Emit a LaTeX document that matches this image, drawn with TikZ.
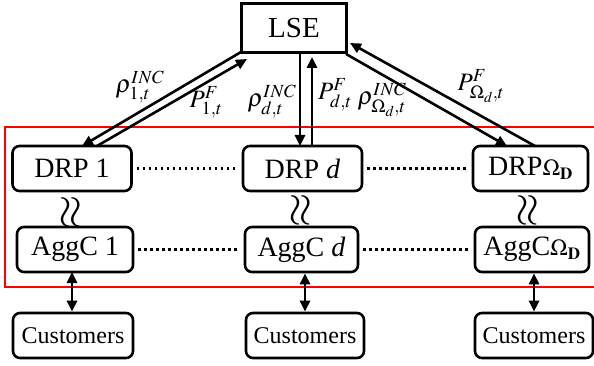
\documentclass[tikz,border=0pt]{standalone}
\usepackage{mathptmx}
\usepackage[no-math]{fontspec}
\setmainfont{Liberation Serif}
\usetikzlibrary{arrows.meta}
\begin{document}
\begin{tikzpicture}[x=1pt,y=-1pt,
  box/.style={draw,line width=2.6pt,rounded corners=7pt,minimum height=45pt,inner sep=0pt,font=\fontsize{28}{30}\selectfont},
  sbox/.style={draw,line width=2.6pt,minimum height=49pt,inner sep=0pt,font=\fontsize{29}{31}\selectfont},
  cbox/.style={box,font=\fontsize{24}{26}\selectfont},
  arr/.style={line width=2.6pt,-{Triangle[length=11pt,width=10pt]}},
  darr/.style={line width=2.6pt,{Triangle[length=11pt,width=10pt]}-{Triangle[length=11pt,width=10pt]}},
  dots/.style={line width=2.6pt,dash pattern=on 2.6pt off 3.4pt,shorten <=4pt,shorten >=4pt},
  lab/.style={inner sep=0pt,font=\fontsize{25}{27}\selectfont},
  wave/.style={inner sep=0pt,font=\fontsize{44}{46}\selectfont}]
\useasboundingbox (0,0) rectangle (594,366);
\draw[red,line width=1.8pt] (5,127) rectangle (600,287);
\node[sbox,minimum width=105pt] (LSE) at (294,28) {LSE};
\node[box,minimum width=119pt] (DRP1) at (72,168.5) {DRP 1};
\node[box,minimum width=119pt] (DRPd) at (302.5,168.5) {DRP \textit{d}};
\node[box,minimum width=115pt] (DRPO) at (530.5,168.5) {DRP{\fontsize{23}{25}\selectfont$\Omega_{\mathbf{D}}$}};
\node[box,minimum width=116pt] (A1) at (75,249.5) {AggC 1};
\node[box,minimum width=113pt] (Ad) at (301.5,249.5) {AggC \textit{d}};
\node[box,minimum width=114pt] (AO) at (532,249.5) {AggC{\fontsize{23}{25}\selectfont$\Omega_{\mathbf{D}}$}};
\node[cbox,minimum width=120pt] (C1) at (73,335.5) {Customers};
\node[cbox,minimum width=118pt] (Cd) at (305,335.5) {Customers};
\node[cbox,minimum width=118pt] (CO) at (534,335.5) {Customers};
% connector end points
\coordinate (a1s) at (241,52);  \coordinate (a1e) at (82,146);
\coordinate (b1s) at (97,146);  \coordinate (b1e) at (247,59);
\coordinate (ads) at (300,52.5);  \coordinate (ade) at (300,146);
\coordinate (bds) at (312,146); \coordinate (bde) at (312,57);
\coordinate (aos) at (346,54);  \coordinate (aoe) at (507,146);
\coordinate (bos) at (535,146); \coordinate (boe) at (350,43);
\draw[arr] (a1s) -- (a1e);
\draw[arr] (b1s) -- (b1e);
\draw[arr] (ads) -- (ade);
\draw[arr] (bds) -- (bde);
\draw[arr] (aos) -- (aoe);
\draw[arr] (bos) -- (boe);
% dotted links
\draw[dots] (DRP1.east) -- (DRPd.west);
\draw[dots] (DRPd.east) -- (DRPO.west);
\draw[dots] (A1.east) -- (Ad.west);
\draw[dots] (Ad.east) -- (AO.west);
% customers links
\coordinate (c1t) at (72,272);
\draw[darr] (c1t) -- (c1t |- C1.north);
\draw[darr] (Ad.south -| Cd.north) -- (Cd.north);
\draw[darr] (AO.south -| CO.north) -- (CO.north);
% equivalence symbols
\node[wave,rotate=90] (w1) at (72,212) {$\approx$};
\node[wave,rotate=90] (wd) at (302,210) {$\approx$};
\node[wave,rotate=90] (wo) at (529,210) {$\approx$};
% labels
\node[lab] (l1) at (140,87) {$\rho_{1,t}^{INC}$};
\node[lab] (l2) at (206,102) {$P_{1,t}^{F}$};
\node[lab] (l3) at (272,102) {$\rho_{d,t}^{INC}$};
\node[lab] (l4) at (335,95) {$P_{d,t}^{F}$};
\node[lab] (l5) at (382,100) {$\rho_{\Omega_d,t}^{INC}$};
\node[lab] (l6) at (481,86) {$P_{\Omega_d,t}^{F}$};
\end{tikzpicture}
\end{document}
